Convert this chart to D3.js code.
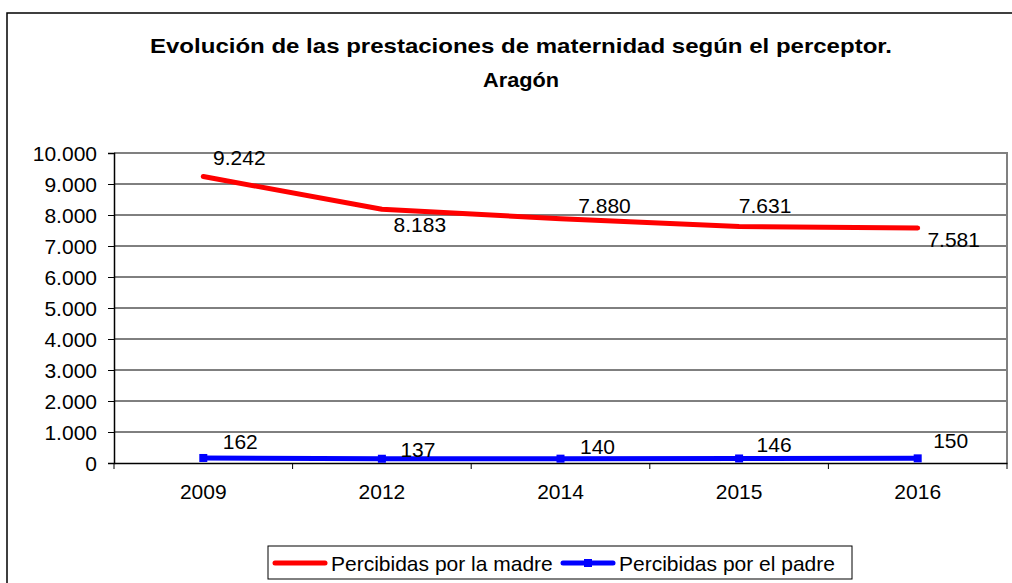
<!DOCTYPE html>
<html>
<head>
<meta charset="utf-8">
<script src="https://cdn.jsdelivr.net/npm/d3@7"></script>
<style>
  body { margin: 0; background: #fff; }
  svg { font-family: "Liberation Sans", Arial, sans-serif; }
</style>
</head>
<body>
<script>
// chart values
var years = ['2009', '2012', '2014', '2015', '2016'];
var madre = [9242, 8183, 7880, 7631, 7581];
var padre = [162, 137, 140, 146, 150];
var yTicks = [0, 1000, 2000, 3000, 4000, 5000, 6000, 7000, 8000, 9000, 10000];
var seriesNames = ['Percibidas por la madre', 'Percibidas por el padre'];

var width = 1012, height = 583;
var plotLeft = 114, plotRight = 1007, plotTop = 153, plotBottom = 463;
var fontSize = '21px';

var fmt = d3.formatLocale({decimal: ',', thousands: '.', grouping: [3], currency: ['', '']}).format(',d');

var svg = d3.select('body').append('svg')
    .attr('width', width)
    .attr('height', height);

// outer chart border
svg.append('rect')
    .attr('x', 7).attr('y', 13)
    .attr('width', 1020).attr('height', 600)
    .attr('fill', 'white')
    .attr('stroke', '#000')
    .attr('stroke-width', 1.5);

// title
svg.append('text')
    .attr('x', 521).attr('y', 53)
    .attr('text-anchor', 'middle')
    .attr('textLength', 742)
    .attr('lengthAdjust', 'spacingAndGlyphs')
    .style('font-weight', 'bold')
    .style('font-size', '21px')
    .text('Evolución de las prestaciones de maternidad según el perceptor.');
svg.append('text')
    .attr('x', 521).attr('y', 87)
    .attr('text-anchor', 'middle')
    .attr('textLength', 76)
    .attr('lengthAdjust', 'spacingAndGlyphs')
    .style('font-weight', 'bold')
    .style('font-size', '21px')
    .text('Aragón');

var x = d3.scaleBand().domain(years).range([plotLeft, plotRight]);
var y = d3.scaleLinear().domain([0, 10000]).range([plotBottom, plotTop]);

// gridlines
svg.append('g')
  .selectAll('line')
  .data(yTicks.slice(1, -1))
  .enter().append('line')
    .attr('x1', plotLeft).attr('x2', plotRight)
    .attr('y1', d => y(d)).attr('y2', d => y(d))
    .attr('stroke', '#000')
    .attr('stroke-width', 1);

// plot frame top/right in gray
svg.append('path')
    .attr('d', 'M' + plotLeft + ',' + y(10000) + 'H' + plotRight + 'V' + plotBottom)
    .attr('fill', 'none')
    .attr('stroke', '#808080')
    .attr('stroke-width', 2);

// y axis
var yAxis = svg.append('g')
    .attr('transform', 'translate(' + plotLeft + ',0)')
    .call(d3.axisLeft(y).tickValues(yTicks).tickFormat(fmt).tickSizeOuter(0).tickSize(6).tickPadding(11));
yAxis.selectAll('text').style('font-size', fontSize).attr('fill', '#000').attr('dy', '0.34em');

// x axis: ticks on category boundaries
var xAxis = svg.append('g')
    .attr('transform', 'translate(0,' + plotBottom + ')')
    .call(d3.axisBottom(x).tickSize(0).tickPadding(21));
xAxis.selectAll('text').style('font-size', fontSize).attr('fill', '#000');
xAxis.append('g')
  .selectAll('line')
  .data(years)
  .enter().append('line')
    .attr('x1', d => x(d)).attr('x2', d => x(d))
    .attr('y1', 0).attr('y2', 6)
    .attr('stroke', '#000');
xAxis.append('line')
    .attr('x1', plotRight).attr('x2', plotRight)
    .attr('y1', 0).attr('y2', 6)
    .attr('stroke', '#000');
svg.selectAll('.domain').attr('stroke', '#000').attr('stroke-width', 1.5);

var cx = d => x(d) + x.bandwidth() / 2;
var line = d3.line()
    .x((d, i) => cx(years[i]))
    .y(d => y(d));

// series lines
svg.append('path')
    .datum(madre)
    .attr('d', line)
    .attr('fill', 'none')
    .attr('stroke', '#ff0000')
    .attr('stroke-width', 5)
    .attr('stroke-linecap', 'round')
    .attr('stroke-linejoin', 'round');

svg.append('path')
    .datum(padre)
    .attr('d', line)
    .attr('fill', 'none')
    .attr('stroke', '#0000ff')
    .attr('stroke-width', 5)
    .attr('stroke-linejoin', 'round');

svg.append('g')
  .selectAll('rect')
  .data(padre)
  .enter().append('rect')
    .attr('x', (d, i) => cx(years[i]) - 4)
    .attr('y', d => y(d) - 4)
    .attr('width', 8).attr('height', 8)
    .attr('fill', '#0000ff');

// data labels, shifted as in the original
var madreShift = [[36, -7], [38, 27], [44, -2], [26, -9], [36, 23]];
var padreShift = [[37, -9], [36, -2], [37, -5], [35, -6], [33, -10]];

svg.append('g')
  .selectAll('text')
  .data(madre)
  .enter().append('text')
    .attr('x', (d, i) => cx(years[i]) + madreShift[i][0])
    .attr('y', (d, i) => y(d) + madreShift[i][1] - 4)
    .attr('text-anchor', 'middle')
    .style('font-size', fontSize)
    .text(d => fmt(d));

svg.append('g')
  .selectAll('text')
  .data(padre)
  .enter().append('text')
    .attr('x', (d, i) => cx(years[i]) + padreShift[i][0])
    .attr('y', (d, i) => y(d) + padreShift[i][1])
    .attr('text-anchor', 'middle')
    .style('font-size', fontSize)
    .text(d => d);

// legend
var legend = svg.append('g');
legend.append('rect')
    .attr('x', 268).attr('y', 546)
    .attr('width', 584).attr('height', 33)
    .attr('fill', 'white')
    .attr('stroke', '#000')
    .attr('stroke-width', 1);

var legendColors = ['#ff0000', '#0000ff'];
var legendX = [275, 563];
seriesNames.forEach(function(name, i) {
  legend.append('line')
      .attr('x1', legendX[i]).attr('x2', legendX[i] + 50)
      .attr('y1', 563).attr('y2', 563)
      .attr('stroke', legendColors[i])
      .attr('stroke-width', 5)
      .attr('stroke-linecap', 'round');
  if (i === 1) {
    legend.append('rect')
        .attr('x', legendX[i] + 21).attr('y', 559)
        .attr('width', 8).attr('height', 8)
        .attr('fill', legendColors[i]);
  }
  legend.append('text')
      .attr('x', legendX[i] + 56).attr('y', 571)
      .style('font-size', fontSize)
      .text(name);
});
</script>
</body>
</html>
